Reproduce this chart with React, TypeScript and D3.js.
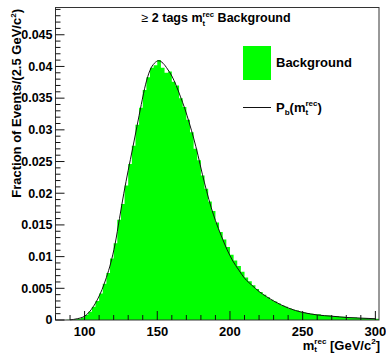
import React, { useEffect, useRef } from 'react'
import * as d3 from 'd3'

// histogram: 2.5 GeV bins starting at 80 GeV
const binLow = 80
const binWidth = 2.5
const binValues = [
  0, 0, 0, 0.00002, 0.00004, 0.0001, 0.0002, 0.0004, 0.0008, 0.0013,
  0.0021, 0.003, 0.0042, 0.0057, 0.0074, 0.0097, 0.0121, 0.0158, 0.0183, 0.0212,
  0.0246, 0.0275, 0.0308, 0.0335, 0.0363, 0.0383, 0.0398, 0.0402, 0.041, 0.0398,
  0.039, 0.0392, 0.0376, 0.037, 0.035, 0.0336, 0.0316, 0.0296, 0.027, 0.0252,
  0.0228, 0.0207, 0.0187, 0.0172, 0.0154, 0.0139, 0.0127, 0.0115, 0.0103, 0.0094,
  0.0085, 0.0076, 0.0067, 0.0061, 0.0055, 0.0049, 0.0044, 0.004, 0.0036, 0.0032,
  0.0029, 0.0026, 0.0023, 0.0021, 0.0018, 0.0016, 0.0015, 0.0013, 0.0012, 0.0011,
  0.001, 0.0009, 0.0009, 0.0008, 0.0007, 0.0007, 0.0006, 0.0006, 0.0005, 0.0005,
  0.0004, 0.0004, 0.0004, 0.0003, 0.0003, 0.0003, 0.0002, 0.0002, 0.0002,
]

// fitted P_b curve
const curveMass = [
  90, 95, 100, 103, 106, 109, 112, 115, 118, 121, 124, 127, 130, 133, 136, 139,
  142, 145, 148, 151, 154, 157, 160, 163, 166, 169, 172, 175, 178, 181, 184, 187,
  190, 194, 198, 202, 206, 210, 215, 220, 225, 230, 235, 240, 245, 250, 260, 270,
  280, 290, 300,
]
const curveValues = [
  0.00003, 0.0002, 0.0006, 0.0012, 0.0021, 0.0033, 0.0048, 0.0067, 0.009, 0.012,
  0.016, 0.02, 0.0236, 0.027, 0.0305, 0.034, 0.0372, 0.0394, 0.0405, 0.0409,
  0.0405, 0.0396, 0.0385, 0.037, 0.0352, 0.0333, 0.0311, 0.0287, 0.026, 0.023,
  0.0203, 0.0178, 0.0157, 0.0133, 0.0111, 0.0093, 0.0079, 0.0066, 0.0055, 0.0045,
  0.0037, 0.003, 0.0024, 0.0019, 0.0015, 0.0012, 0.0008, 0.0006, 0.0004, 0.0003,
  0.0002,
]

const xTicks = [100, 150, 200, 250, 300]
const xMinorTicks = [80, 90, 110, 120, 130, 140, 160, 170, 180, 190, 210, 220, 230, 240, 260, 270, 280, 290]
const yTicks = [0, 0.005, 0.01, 0.015, 0.02, 0.025, 0.03, 0.035, 0.04, 0.045]
const yTickLabels = ['0', '0.005', '0.01', '0.015', '0.02', '0.025', '0.03', '0.035', '0.04', '0.045']

const W = 386
const H = 354
const left = 55.5
const right = 379
const top = 7.5
const bottom = 320
const green = '#00ff00'
const font = '"Liberation Sans", Arial, Helvetica, sans-serif'

type Part = { t?: string; sup?: string; sub?: string; w?: string }

function rich(parent: any, parts: Part[], size: number, anchor: string, subDrop = 0.3) {
  const g = parent.append('g')
  let cx = 0
  const add = (txt: string, x: number, y: number, s: number, w: string) => {
    const el = g
      .append('text')
      .attr('x', x)
      .attr('y', y)
      .attr('font-size', s)
      .attr('font-weight', w)
      .style('white-space', 'pre')
      .text(txt)
    return (el.node() as SVGTextElement).getComputedTextLength()
  }
  parts.forEach(p => {
    if (p.t !== undefined) {
      cx += add(p.t, cx, 0, size, p.w || 'bold')
    } else {
      let w = 0
      if (p.sup) w = Math.max(w, add(p.sup, cx, -size * 0.42, size * 0.62, 'bold'))
      if (p.sub) w = Math.max(w, add(p.sub, cx, size * subDrop, size * 0.62, 'bold'))
      cx += w
    }
  })
  const shift = anchor === 'end' ? -cx : anchor === 'middle' ? -cx / 2 : 0
  g.attr('transform', `translate(${shift},0)`)
  return g
}

export default function App() {
  const ref = useRef<SVGSVGElement>(null)

  useEffect(() => {
    const svg = d3.select(ref.current)
    svg.selectAll('*').remove()
    svg.attr('font-family', font)

    const x = d3.scaleLinear().domain([binLow, binLow + binWidth * binValues.length]).range([left, right])
    const y = d3.scaleLinear().domain([0, 0.0493]).range([bottom, top])

    // histogram as one stepped path
    const bins = binValues.map((v, i) => ({ x0: binLow + i * binWidth, x1: binLow + (i + 1) * binWidth, v }))
    const path = d3.path()
    path.moveTo(x(bins[0].x0), y(0))
    bins.forEach(b => {
      path.lineTo(x(b.x0), y(b.v))
      path.lineTo(x(b.x1), y(b.v))
    })
    path.lineTo(x(bins[bins.length - 1].x1), y(0))
    path.closePath()
    svg.append('path').attr('d', path.toString()).attr('fill', green).attr('stroke', 'none')

    // fit curve
    const line = d3
      .line<number>()
      .x((d, i) => x(curveMass[i]))
      .y(d => y(d))
      .curve(d3.curveMonotoneX)
    svg
      .append('path')
      .attr('d', line(curveValues))
      .attr('fill', 'none')
      .attr('stroke', '#111')
      .attr('stroke-width', 1)

    // frame
    svg
      .append('rect')
      .attr('x', left)
      .attr('y', top)
      .attr('width', right - left)
      .attr('height', bottom - top)
      .attr('fill', 'none')
      .attr('stroke', '#333')
      .attr('stroke-width', 1)

    const ticks = svg.append('g').attr('stroke', '#111').attr('stroke-width', 1)
    xTicks.forEach(t => {
      ticks.append('line').attr('x1', x(t)).attr('x2', x(t)).attr('y1', bottom).attr('y2', bottom - 9)
    })
    xMinorTicks.forEach(t => {
      ticks.append('line').attr('x1', x(t)).attr('x2', x(t)).attr('y1', bottom).attr('y2', bottom - 5)
    })
    d3.range(0, 50).forEach(k => {
      const v = k * 0.001
      if (y(v) < top) return
      const major = k % 5 === 0
      ticks
        .append('line')
        .attr('x1', left)
        .attr('x2', left + (major ? 9 : 5))
        .attr('y1', y(v))
        .attr('y2', y(v))
    })

    // tick labels
    svg
      .append('g')
      .selectAll('text')
      .data(xTicks)
      .join('text')
      .attr('x', d => x(d))
      .attr('y', 335.5)
      .attr('text-anchor', 'middle')
      .attr('font-size', 13)
      .attr('font-weight', 'bold')
      .text(d => String(d))

    svg
      .append('g')
      .selectAll('text')
      .data(yTicks)
      .join('text')
      .attr('x', 52.5)
      .attr('y', d => y(d) + 4.3)
      .attr('text-anchor', 'end')
      .attr('font-size', 12.5)
      .attr('font-weight', 'bold')
      .text((d, i) => yTickLabels[i])

    // titles
    const title = svg.append('g').attr('transform', 'translate(216,22)')
    rich(title, [{ t: '\u2265 ', w: 'normal' }, { t: '2 tags m' }, { sup: 'rec', sub: 't' }, { t: ' Background' }], 12.5, 'middle')

    const yTitle = svg.append('g').attr('transform', 'translate(21,9) rotate(-90)')
    rich(yTitle, [{ t: 'Fraction of Events/(2.5 GeV/c' }, { sup: '2' }, { t: ')' }], 13, 'end')

    const xTitle = svg.append('g').attr('transform', 'translate(380,349.5)')
    rich(xTitle, [{ t: 'm' }, { sup: 'rec', sub: 't' }, { t: ' [GeV/c' }, { sup: '2' }, { t: ']' }], 13, 'end', 0.22)

    // legend
    svg.append('rect').attr('x', 243).attr('y', 46).attr('width', 28).attr('height', 34).attr('fill', green)
    svg
      .append('text')
      .attr('x', 276)
      .attr('y', 67)
      .attr('font-size', 13)
      .attr('font-weight', 'bold')
      .text('Background')
    svg.append('line').attr('x1', 243).attr('x2', 271).attr('y1', 107.5).attr('y2', 107.5).attr('stroke', '#111')
    const leg = svg.append('g').attr('transform', 'translate(276,111.5)')
    rich(leg, [{ t: 'P' }, { sub: 'b' }, { t: '(m' }, { sup: 'rec', sub: 't' }, { t: ')' }], 13, 'start')
  }, [])

  return (
    <svg
      ref={ref}
      width={W}
      height={H}
      style={{ position: 'absolute', left: 0, top: 0, background: '#fff' }}
    />
  )
}
